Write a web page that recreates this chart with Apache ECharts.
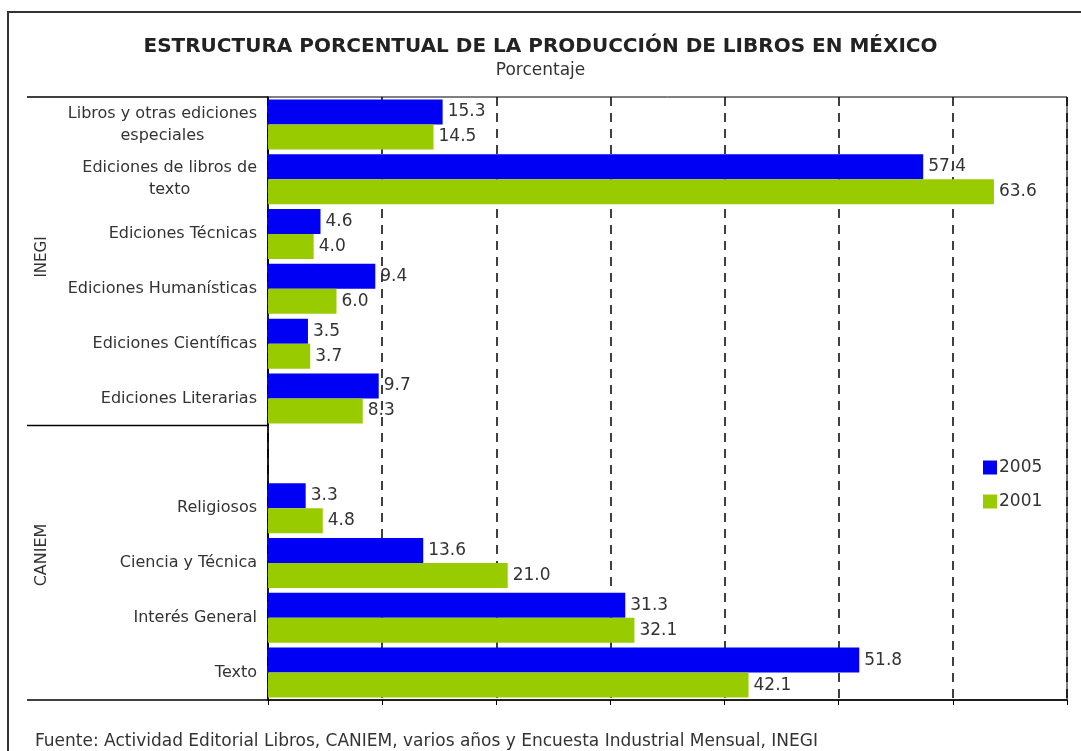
<!DOCTYPE html>
<html>
<head>
<meta charset="utf-8">
<script src="https://cdn.jsdelivr.net/npm/echarts@6/dist/echarts.min.js"></script>
<style>
    html, body { margin: 0; padding: 0; background: #fff; }
    #main { width: 1081px; height: 751px; }
</style>
</head>
<body>
<div id="main"></div>
<script>
// categorias (la vacia separa INEGI de CANIEM)
var categorias = [
    'Libros y otras ediciones\nespeciales',
    'Ediciones de libros de\ntexto',
    'Ediciones Técnicas',
    'Ediciones Humanísticas',
    'Ediciones Científicas',
    'Ediciones Literarias',
    '',
    'Religiosos',
    'Ciencia y Técnica',
    'Interés General',
    'Texto'
];

var datos2005 = [15.3, 57.4, 4.6, 9.4, 3.5, 9.7, '-', 3.3, 13.6, 31.3, 51.8];
var datos2001 = [14.5, 63.6, 4.0, 6.0, 3.7, 8.3, '-', 4.8, 21.0, 32.1, 42.1];

var escalaX = { min: 0, max: 70, interval: 10 };

var fuente = 'DejaVu Sans, Verdana, sans-serif';
var gris = '#333';

var myChart = echarts.init(document.getElementById('main'));

function etiqueta(p) {
    return Number(p.value).toFixed(1);
}

var option = {
    backgroundColor: '#fff',
    animation: false,
    title: {
        text: 'ESTRUCTURA PORCENTUAL DE LA PRODUCCIÓN DE LIBROS EN MÉXICO',
        subtext: 'Porcentaje',
        left: 'center',
        top: 32,
        itemGap: 5,
        textStyle: { fontFamily: fuente, fontSize: 20, fontWeight: 'bold', color: '#222' },
        subtextStyle: { fontFamily: fuente, fontSize: 17, color: gris }
    },
    legend: {
        orient: 'vertical',
        left: 978,
        top: 454,
        itemWidth: 14,
        itemHeight: 14,
        itemGap: 17,
        icon: 'rect',
        textStyle: { fontFamily: fuente, fontSize: 17, color: gris, padding: [0, 0, 0, -3] },
        data: ['2005', '2001']
    },
    grid: {
        left: 268, right: 14, top: 97, bottom: 51,
        show: true, borderColor: '#000', borderWidth: 1
    },
    xAxis: {
        type: 'value',
        min: escalaX.min,
        max: escalaX.max,
        interval: escalaX.interval,
        axisLine: { show: true, lineStyle: { color: '#000', width: 1.5 } },
        axisTick: { show: true, length: 5, lineStyle: { color: '#000' } },
        axisLabel: { show: false },
        splitLine: { show: true, lineStyle: { color: '#000', width: 1.5, type: [9, 7] } }
    },
    yAxis: {
        type: 'category',
        inverse: true,
        data: categorias,
        axisLine: { show: true, lineStyle: { color: '#000', width: 1.5 } },
        axisTick: { show: false },
        axisLabel: {
            margin: 11,
            fontFamily: fuente,
            fontSize: 16,
            color: gris,
            lineHeight: 22,
            formatter: function (v) {
                if (v.indexOf('\n') < 0) return v;
                return v.split('\n').map(function (l) { return '{c|' + l + '}'; }).join('\n');
            },
            rich: {
                c: { align: 'center', fontFamily: fuente, fontSize: 16, color: gris, lineHeight: 22 }
            }
        }
    },
    series: [{
        name: '2005',
        type: 'bar',
        data: datos2005,
        barWidth: 25,
        barGap: '0%',
        itemStyle: { color: '#0000f5' },
        label: { show: true, position: 'right', distance: 5, fontFamily: fuente, fontSize: 17, color: gris, formatter: etiqueta }
    }, {
        name: '2001',
        type: 'bar',
        data: datos2001,
        barWidth: 25,
        barGap: '0%',
        itemStyle: { color: '#99cc00' },
        label: { show: true, position: 'right', distance: 5, fontFamily: fuente, fontSize: 17, color: gris, formatter: etiqueta }
    }],
    graphic: [
        // marco exterior
        { type: 'polyline', shape: { points: [[8, 751], [8, 12], [1081, 12]] }, style: { stroke: '#333', lineWidth: 2, fill: null } },
        // lineas de grupo
        { type: 'line', shape: { x1: 27, y1: 97, x2: 268, y2: 97 }, style: { stroke: '#000', lineWidth: 1.5 } },
        { type: 'line', shape: { x1: 27, y1: 425.5, x2: 268, y2: 425.5 }, style: { stroke: '#000', lineWidth: 1.5 } },
        { type: 'line', shape: { x1: 27, y1: 700, x2: 268, y2: 700 }, style: { stroke: '#000', lineWidth: 1.5 } },
        { type: 'text', x: 42, y: 257, rotation: Math.PI / 2,
          style: { text: 'INEGI', font: '15px ' + fuente, fill: gris, align: 'center', verticalAlign: 'middle' } },
        { type: 'text', x: 42, y: 555, rotation: Math.PI / 2,
          style: { text: 'CANIEM', font: '16px ' + fuente, fill: gris, align: 'center', verticalAlign: 'middle' } },
        { type: 'text', x: 35, y: 742,
          style: { text: 'Fuente: Actividad Editorial Libros, CANIEM, varios años y Encuesta Industrial Mensual, INEGI',
                   font: '17px ' + fuente, fill: gris, verticalAlign: 'middle' } }
    ]
};

myChart.setOption(option);
</script>
</body>
</html>
